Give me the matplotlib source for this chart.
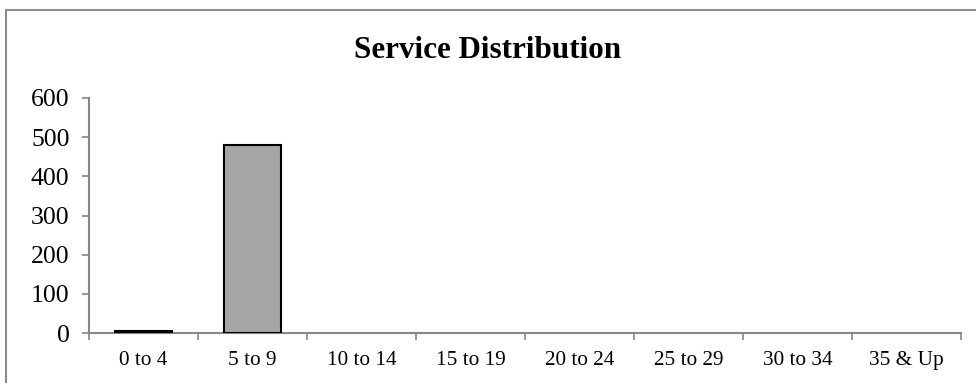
import matplotlib
matplotlib.use("Agg")
import matplotlib.pyplot as plt
from matplotlib.patches import Rectangle

# data
categories = ["0 to 4", "5 to 9", "10 to 14", "15 to 19",
              "20 to 24", "25 to 29", "30 to 34", "35 & Up"]
counts = [4, 480, 0, 0, 0, 0, 0, 0]
y_ticks = [0, 100, 200, 300, 400, 500, 600]

AXIS = "#868686"
BAR = "#A6A6A6"

plt.rcParams.update({
    "font.family": ["Liberation Serif", "DejaVu Serif"],
    "font.size": 15,
})

fig = plt.figure(figsize=(9.76, 3.83), dpi=100)
# outer chart border (cropped on right/bottom in the reference)
fig.patches.append(Rectangle((6 / 976, -0.2), 1.2, 1.2 - 10 / 383,
                             transform=fig.transFigure, fill=False,
                             edgecolor="#8C8C8C", lw=1.5))

ax = fig.add_axes([89 / 976, 1 - 333 / 383, (961 - 89) / 976, (333 - 98) / 383])

x = list(range(len(categories)))
# Excel draws nothing for empty bins
edge_w = [1.5 if c else 0 for c in counts]
ax.bar(x, counts, width=0.52, color=BAR, edgecolor="black", linewidth=edge_w, zorder=3)

ax.set_xlim(-0.5, len(categories) - 0.5)
ax.set_ylim(0, 600)
ax.set_yticks(y_ticks)
ax.set_xticks([i - 0.5 for i in range(len(categories) + 1)])
ax.set_xticklabels([""] * (len(categories) + 1))
ax.set_xticks(x, minor=True)
ax.set_xticklabels(categories, minor=True, fontsize=15.3)
ax.tick_params(axis="x", which="minor", length=0, pad=13)
ax.tick_params(axis="x", which="major", length=5, width=1.2, color=AXIS, direction="out")
ax.tick_params(axis="y", length=5, width=1.2, color=AXIS, direction="out", labelsize=18.5, pad=9)

for s in ("top", "right"):
    ax.spines[s].set_visible(False)
for s in ("left", "bottom"):
    ax.spines[s].set_color(AXIS)
    ax.spines[s].set_linewidth(1.5)

fig.text(0.5, 1 - 51 / 383, "Service Distribution", ha="center", va="center",
         fontsize=22.4, fontweight="bold")

fig.savefig("out.png", dpi=100, facecolor="white")
